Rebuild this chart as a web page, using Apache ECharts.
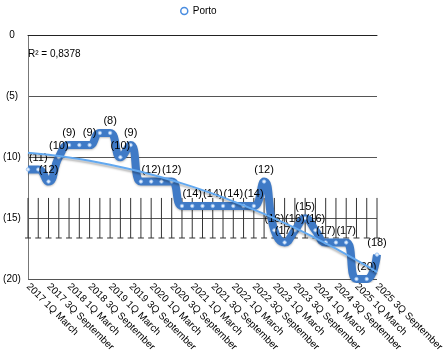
<!DOCTYPE html>
<html>
<head>
<meta charset="utf-8">
<script src="https://cdn.jsdelivr.net/npm/echarts@6/dist/echarts.min.js"></script>
<style>
html,body{margin:0;padding:0;background:#fff;}
#chart{width:443px;height:356px;}
</style>
</head>
<body>
<div id="chart"></div>
<script>
const categories = [
  '2017 1Q March','2017 2Q June','2017 3Q September','2017 4Q December',
  '2018 1Q March','2018 2Q June','2018 3Q September','2018 4Q December',
  '2019 1Q March','2019 2Q June','2019 3Q September','2019 4Q December',
  '2020 1Q March','2020 2Q June','2020 3Q September','2020 4Q December',
  '2021 1Q March','2021 2Q June','2021 3Q September','2021 4Q December',
  '2022 1Q March','2022 2Q June','2022 3Q September','2022 4Q December',
  '2023 1Q March','2023 2Q June','2023 3Q September','2023 4Q December',
  '2024 1Q March','2024 2Q June','2024 3Q September','2024 4Q December',
  '2025 1Q March','2025 2Q June','2025 3Q September'
];
const porto = [-11,-11,-12,-10,-9,-9,-9,-8,-8,-10,-9,-12,-12,-12,-12,-14,-14,-14,-14,-14,-14,-14,-14,-12,-16,-17,-16,-15,-16,-17,-17,-17,-20,-20,-18];
const yTicks = [0,-5,-10,-15,-20];
const yTickLabels = ['0','(5)','(10)','(15)','(20)'];
const r2Text = 'R² = 0,8378';
const seriesName = 'Porto';

const FONT = '"Liberation Sans", Arial, Helvetica, sans-serif';
const n = porto.length;

// quadratic least-squares trend line computed from the data
function quadFit(ys){
  let S=[0,0,0,0,0], T=[0,0,0];
  ys.forEach((y,i)=>{ let p=1; for(let k=0;k<5;k++){S[k]+=p; if(k<3)T[k]+=p*y; p*=i;} });
  const A=[[S[0],S[1],S[2],T[0]],[S[1],S[2],S[3],T[1]],[S[2],S[3],S[4],T[2]]];
  for(let c=0;c<3;c++){
    for(let r=c+1;r<3;r++){const f=A[r][c]/A[c][c]; for(let k=c;k<4;k++)A[r][k]-=f*A[c][k];}
  }
  const x=[0,0,0];
  for(let r=2;r>=0;r--){let s=A[r][3]; for(let k=r+1;k<3;k++)s-=A[r][k]*x[k]; x[r]=s/A[r][r];}
  return x;
}
const coef = quadFit(porto);
const trend = porto.map((_,i)=>coef[0]+coef[1]*i+coef[2]*i*i);

// error bars: mean down to mean - standard deviation
const mean = porto.reduce((a,b)=>a+b,0)/n;
const sd = Math.sqrt(porto.reduce((a,b)=>a+(b-mean)*(b-mean),0)/(n-1));
const errData = porto.map((_,i)=>[i, mean, mean-sd]);

// labels: later points take precedence over an adjacent equal label
const showLabel = new Array(n).fill(true);
let lastShown = null;
for(let i=n-1;i>=0;i--){
  if(lastShown===i+1 && porto[i]===porto[i+1]){ showLabel[i]=false; }
  else { lastShown=i; }
}
const mainData = porto.map((v,i)=>({value:v, label:{show:showLabel[i]}}));

const chart = echarts.init(document.getElementById('chart'), null, {renderer:'canvas'});
chart.setOption({
  animation:false,
  backgroundColor:'#ffffff',
  textStyle:{fontFamily:FONT},
  legend:{
    data:[seriesName],
    left:175, top:1,
    icon:'circle', itemWidth:7, itemHeight:7, itemGap:6,
    textStyle:{fontSize:10, color:'#000', fontFamily:FONT},
    itemStyle:{color:'#ffffff', borderColor:'#4a8de0', borderWidth:1.5}
  },
  grid:{left:28, right:66, top:35.5, bottom:77, outerBoundsMode:'none', containLabel:false},
  graphic:[{
    type:'text', left:28, top:49,
    style:{text:r2Text, fontSize:10, fill:'#000', fontFamily:FONT}
  }],
  xAxis:{
    type:'category', data:categories, boundaryGap:false,
    axisLine:{show:true, lineStyle:{color:'#222', width:1}},
    axisTick:{show:false},
    splitLine:{show:false},
    axisLabel:{interval:1, rotate:-45, fontSize:10, color:'#000', margin:6, fontFamily:FONT}
  },
  yAxis:{
    type:'value', min:-20, max:0, interval:5,
    axisLine:{show:true, lineStyle:{color:'#777', width:1}},
    axisTick:{show:false},
    splitLine:{show:true, lineStyle:{color:'#555', width:1}},
    axisLabel:{
      fontSize:10, color:'#000', align:'center', margin:16, fontFamily:FONT,
      formatter:(v)=>{const k=yTicks.indexOf(v); return k>=0?yTickLabels[k]:'';}
    }
  },
  series:[
    {
      type:'custom', name:'err', data:errData, z:1, silent:true,
      encode:{x:0, y:[1,2]},
      renderItem:(params, api)=>{
        const x=api.value(0);
        const p1=api.coord([x, api.value(1)]);
        const p2=api.coord([x, api.value(2)]);
        return {type:'group', children:[
          {type:'line', shape:{x1:p1[0],y1:p1[1],x2:p2[0],y2:p2[1]}, style:{stroke:'#333', lineWidth:1}},
          {type:'line', shape:{x1:p2[0]-3,y1:p2[1],x2:p2[0]+3,y2:p2[1]}, style:{stroke:'#333', lineWidth:1}}
        ]};
      }
    },
    {
      type:'line', name:seriesName, data:mainData, z:3,
      smooth:0.5,
      symbol:'circle', symbolSize:3.5, showAllSymbol:true,
      lineStyle:{color:'#3f7ac6', width:8, shadowColor:'rgba(0,0,0,0.25)', shadowBlur:2, shadowOffsetY:1},
      itemStyle:{color:'#e4eefb', borderColor:'#8dbaf0', borderWidth:0.8},
      label:{position:'top', distance:4, fontSize:11, color:'#000', fontFamily:FONT,
        formatter:(p)=>'('+Math.abs(p.value)+')'},
      emphasis:{disabled:true}
    },
    {
      type:'line', name:'trend', data:trend, z:4, silent:true,
      symbol:'none', smooth:false,
      lineStyle:{color:'#63a9f0', width:2, shadowColor:'rgba(0,0,0,0.3)', shadowBlur:2, shadowOffsetY:2},
      emphasis:{disabled:true}
    }
  ]
});
</script>
</body>
</html>
